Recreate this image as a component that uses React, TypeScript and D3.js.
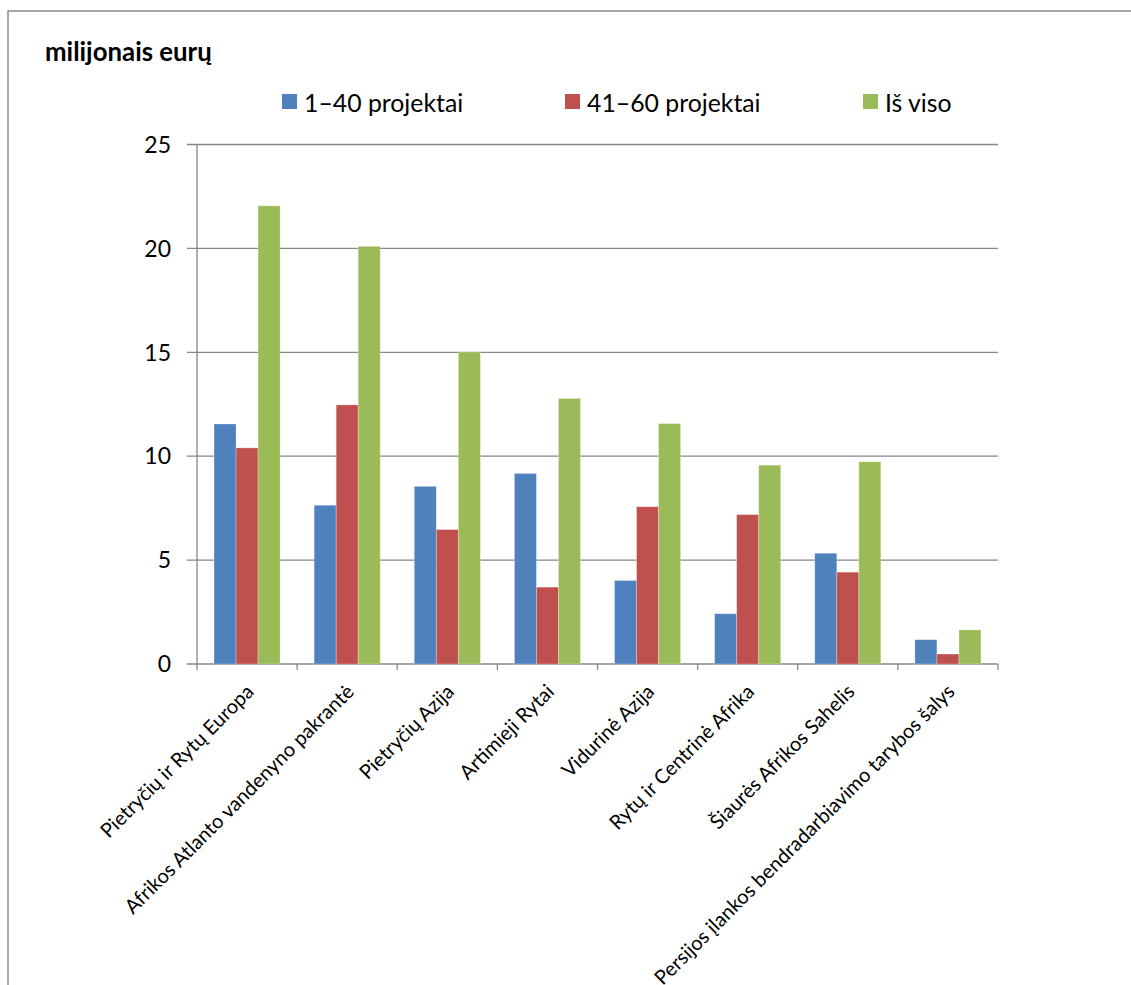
import React from "react";
import * as d3 from "d3";

const categories = [
  "Pietryčių ir Rytų Europa",
  "Afrikos Atlanto vandenyno pakrantė",
  "Pietryčių Azija",
  "Artimieji Rytai",
  "Vidurinė Azija",
  "Rytų ir Centrinė Afrika",
  "Šiaurės Afrikos Sahelis",
  "Persijos įlankos bendradarbiavimo tarybos šalys",
];
const seriesNames = ["1–40 projektai", "41–60 projektai", "Iš viso"];
const s1 = [11.55, 7.64, 8.55, 9.17, 4.02, 2.42, 5.33, 1.17];
const s2 = [10.4, 12.47, 6.47, 3.7, 7.57, 7.19, 4.42, 0.48];
const s3 = [22.05, 20.1, 15.02, 12.78, 11.57, 9.57, 9.73, 1.64];
const colors = ["#4F81BD", "#C0504D", "#9BBB59"];
const yTicks = [0, 5, 10, 15, 20, 25];
const unitTitle = "milijonais eurų";

const W = 1131;
const H = 985;
const left = 197;
const right = 998;
const top = 144.5;
const bottom = 664;
const font = "Lato, 'Open Sans', sans-serif";

export default function App() {
  const series = [s1, s2, s3];
  const x = d3
    .scaleBand<string>()
    .domain(categories)
    .range([left, right])
    .paddingInner(0.34)
    .paddingOuter(0.17);
  const xs = d3
    .scaleBand<number>()
    .domain([0, 1, 2])
    .range([0, x.bandwidth()]);
  const y = d3.scaleLinear().domain([0, 25]).range([bottom, top]);
  const step = x.step();
  const gridColor = "#868686";
  const legendX = [282, 565, 863];

  return (
    <svg
      width={W}
      height={H}
      style={{ position: "absolute", left: 0, top: 0, background: "#fff" }}
      fontFamily={font}
    >
      <rect x={0} y={0} width={W} height={H} fill="#fff" />
      <rect x={8} y={11} width={1300} height={1200} fill="none" stroke="#8c8c8c" strokeWidth={1.5} />
      <text x={45} y={61} fontSize={25.8} fontWeight="bold" fill="#000">
        {unitTitle}
      </text>
      {seriesNames.map((n, i) => (
        <g key={n}>
          <rect x={legendX[i]} y={94} width={15} height={15} fill={colors[i]} />
          <text x={legendX[i] + 22} y={112} fontSize={24.8} fill="#000">
            {n}
          </text>
        </g>
      ))}
      {yTicks.map((t) => (
        <g key={t}>
          <line x1={left - 10} x2={right} y1={y(t)} y2={y(t)} stroke={gridColor} strokeWidth={1.3} />
          <text x={171} y={y(t)} dy="0.36em" textAnchor="end" fontSize={23} fill="#000">
            {t}
          </text>
        </g>
      ))}
      <line x1={left} x2={left} y1={top} y2={bottom} stroke={gridColor} strokeWidth={1.3} />
      {d3.range(categories.length + 1).map((i) => (
        <line
          key={i}
          x1={left + i * step}
          x2={left + i * step}
          y1={bottom}
          y2={bottom + 6}
          stroke={gridColor}
          strokeWidth={1.3}
        />
      ))}
      {categories.map((c, ci) => (
        <g key={c}>
          {series.map((s, si) => (
            <rect
              key={si}
              x={(x(c) as number) + (xs(si) as number)}
              y={y(s[ci])}
              width={xs.bandwidth()}
              height={y(0) - y(s[ci])}
              fill={colors[si]}
              stroke="rgba(255,255,255,0.35)"
              strokeWidth={0.8}
            />
          ))}
        </g>
      ))}
      {categories.map((c) => {
        const cx = (x(c) as number) + x.bandwidth() / 2 + 3;
        const cy = 688;
        return (
          <text
            key={c}
            x={cx}
            y={cy}
            dy="0.35em"
            textAnchor="end"
            fontSize={20}
            fill="#000"
            transform={`rotate(-45 ${cx} ${cy})`}
          >
            {c}
          </text>
        );
      })}
    </svg>
  );
}
